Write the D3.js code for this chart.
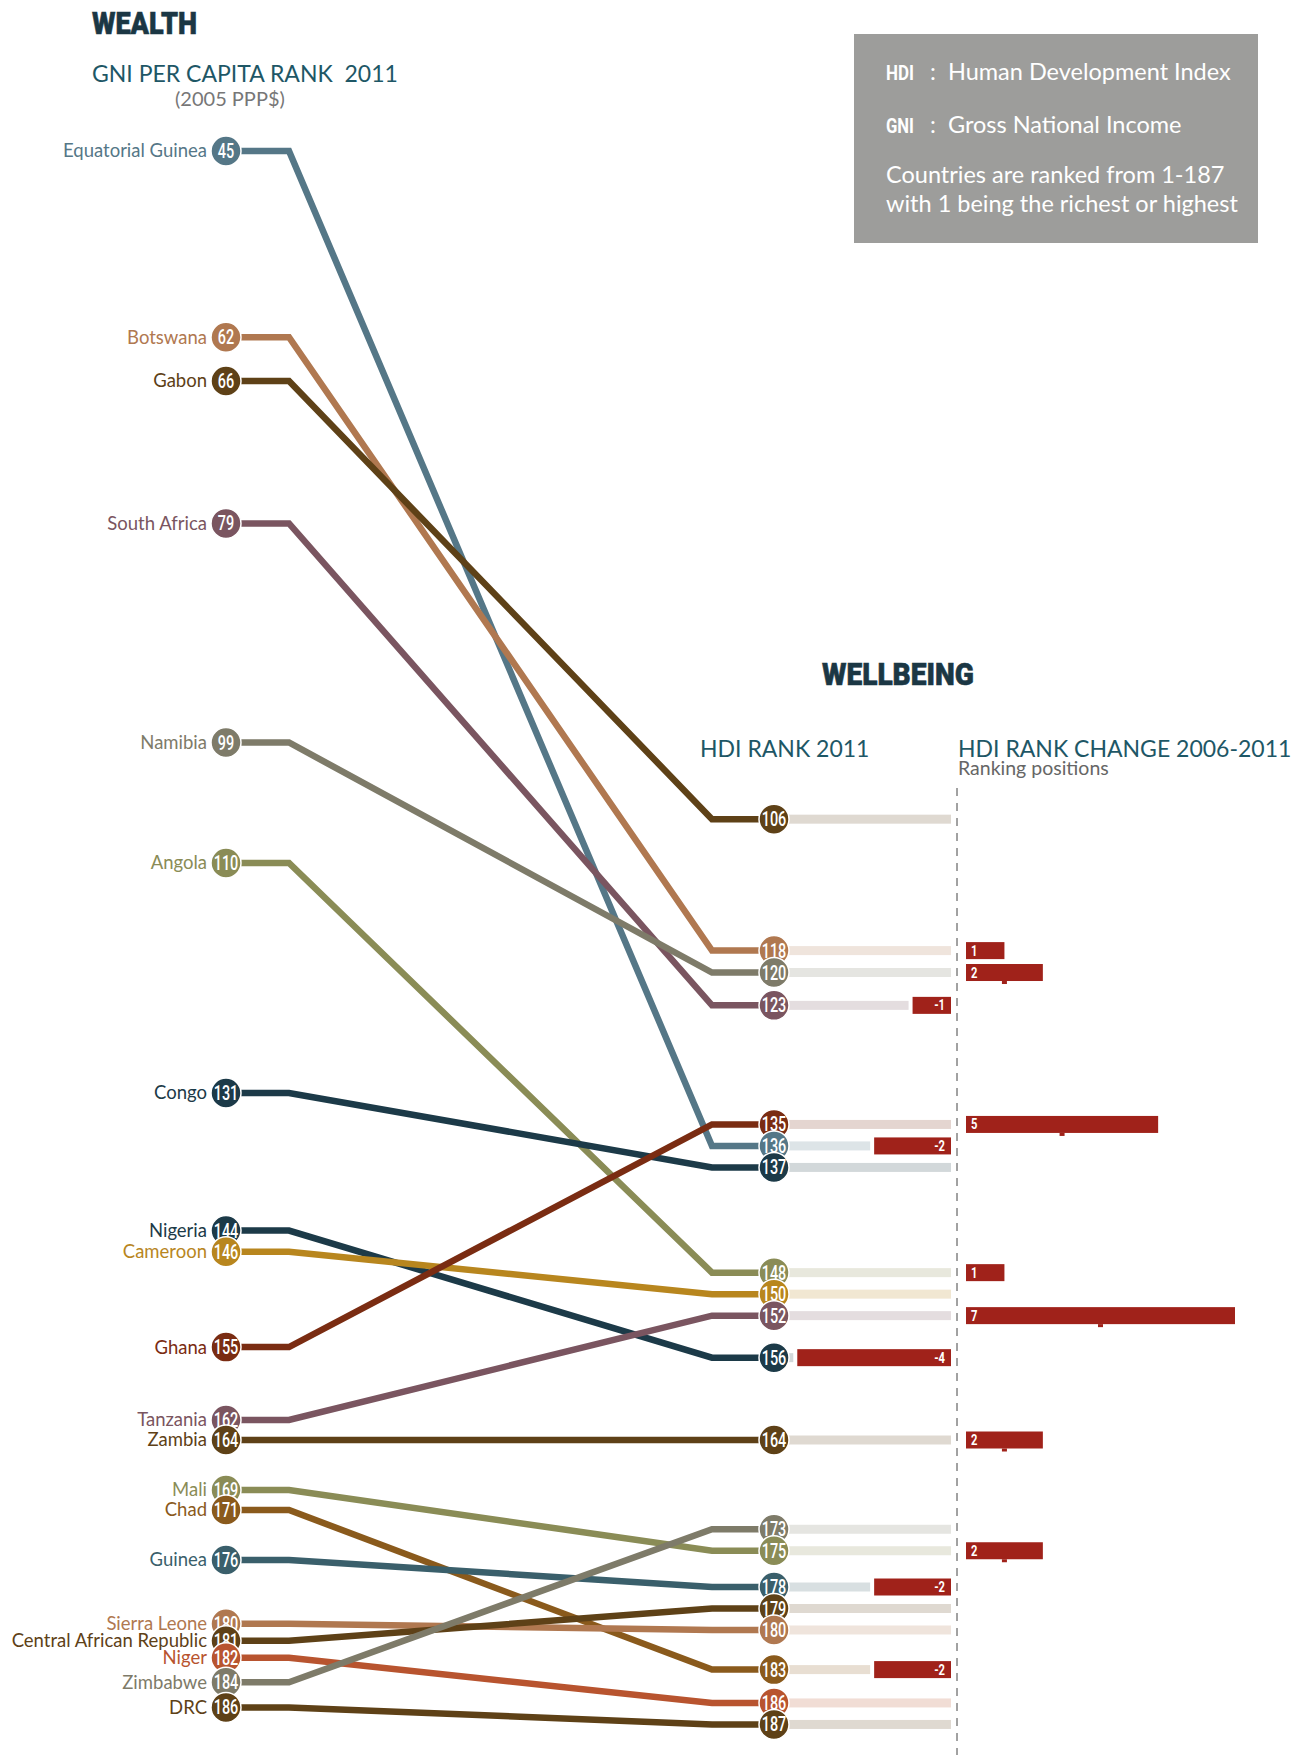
<!DOCTYPE html>
<html><head><meta charset="utf-8">
<script src="https://cdn.jsdelivr.net/npm/d3@7"></script>
<style>
body{margin:0;background:#fff;}
svg{display:block}
</style></head><body>
<svg id="chart" width="1306" height="1755"></svg>
<script>
// ---------- data ----------
const countries = ["Equatorial Guinea","Botswana","Gabon","South Africa","Namibia","Angola","Congo","Nigeria","Cameroon","Ghana","Tanzania","Zambia","Mali","Chad","Guinea","Sierra Leone","Central African Republic","Niger","Zimbabwe","DRC"];
const gniRank   = [45,62,66,79,99,110,131,144,146,155,162,164,169,171,176,180,181,182,184,186];
const hdiRank   = [136,118,106,123,120,148,137,156,150,135,152,164,175,183,178,180,179,186,173,187];
const hdiChange = [-2,1,0,-1,2,1,0,-4,0,5,7,2,2,-2,-2,0,0,0,0,0];

// ---------- style ----------
const palette = ["#557787","#b07850","#5e4117","#7a5560","#7e7b69","#8a8c56","#1c3a48","#1c3a48","#b8861e","#7a2c12","#7a5560","#5e4117","#8a8c56","#8a5a1c","#3a5f6b","#b07850","#5e4117","#b8542f","#7e7b69","#5e4117"];
const SANS = "Lato, 'Open Sans', sans-serif";
const COND = "Roboto, 'DejaVu Sans', sans-serif";
const TITLE = "#1b3744", HEAD = "#1e5766", BAR = "#a0221a";

const svg = d3.select("#chart");

// rank scale (polylinear) shared by both columns
const y = d3.scaleLinear().domain([45,131,160,176,182,187]).range([151,1093,1400,1560,1657,1720]);
const xCol = d3.scalePoint().domain(["gni","elbowL","elbowR","hdi"]).range([226,774]);
const xElbow = {l:289, r:712};
const trackEnd = 951, zeroLine = 957, posStart = 966;
const cx = d3.scaleLinear().domain([0,7]).range([0,269]);

function relax(vals, gap){
  const idx = d3.range(vals.length).sort((a,b)=>vals[a]-vals[b]);
  const p = vals.slice();
  for(let it=0; it<300; it++){
    let moved=false;
    for(let k=1;k<idx.length;k++){
      const a=idx[k-1], b=idx[k];
      const d=p[b]-p[a];
      if(d<gap-0.01){const s=(gap-d)/2; p[a]-=s; p[b]+=s; moved=true;}
    }
    if(!moved) break;
  }
  return p;
}
const yL = relax(gniRank.map(y), 17);
const yR = relax(hdiRank.map(y), 21.5);

const data = countries.map((c,i)=>({name:c, gni:gniRank[i], hdi:hdiRank[i], ch:hdiChange[i], color:palette[i], yl:yL[i], yr:yR[i]}));
const xl = xCol("gni"), xr = xCol("hdi");

// squeeze a text horizontally to a target width (anchored at its x)
function fit(sel, w){
  const node = sel.node();
  const len = node.getComputedTextLength();
  const x = +sel.attr("x");
  const k = w/len;
  sel.attr("transform",`translate(${x*(1-k)},0) scale(${k},1)`);
  return sel;
}

// ---------- titles ----------
fit(svg.append("text").attr("x",92).attr("y",34).text("WEALTH")
  .attr("font-family",COND).attr("font-weight",900).attr("font-size",31)
  .attr("fill",TITLE).attr("stroke",TITLE).attr("stroke-width",0.6), 105);
svg.append("text").attr("x",92).attr("y",82).text("GNI PER CAPITA RANK\u00a0\u00a02011")
  .attr("font-family",SANS).attr("font-size",23).attr("fill",HEAD);
svg.append("text").attr("x",175).attr("y",106).text("(2005 PPP$)")
  .attr("font-family",SANS).attr("font-size",20).attr("fill","#777");

fit(svg.append("text").attr("x",822).attr("y",685).text("WELLBEING")
  .attr("font-family",COND).attr("font-weight",900).attr("font-size",31)
  .attr("fill",TITLE).attr("stroke",TITLE).attr("stroke-width",0.6), 152);
svg.append("text").attr("x",700).attr("y",757).text("HDI RANK 2011")
  .attr("font-family",SANS).attr("font-size",23).attr("fill",HEAD);
svg.append("text").attr("x",958).attr("y",757).text("HDI RANK CHANGE 2006-2011")
  .attr("font-family",SANS).attr("font-size",23).attr("fill",HEAD);
svg.append("text").attr("x",958).attr("y",775).text("Ranking positions")
  .attr("font-family",SANS).attr("font-size",19.5).attr("fill","#666");

// ---------- legend box ----------
const lg = svg.append("g");
lg.append("rect").attr("x",854).attr("y",34).attr("width",404).attr("height",209).attr("fill","#9d9d9b");
const lgRows = [
  {b:"HDI", t:":  Human Development Index", y:80},
  {b:"GNI", t:":  Gross National Income", y:133}
];
lgRows.forEach(r=>{
  fit(lg.append("text").attr("x",886).attr("y",r.y).text(r.b).attr("font-family",COND).attr("font-weight",700).attr("font-size",21).attr("fill","#fff"), 28);
  lg.append("text").attr("x",930).attr("y",r.y).text(r.t).attr("font-family",SANS).attr("font-size",23.5).attr("fill","#fff").attr("xml:space","preserve");
});
lg.append("text").attr("x",886).attr("y",183).text("Countries are ranked from 1-187").attr("font-family",SANS).attr("font-size",23.5).attr("fill","#fff");
lg.append("text").attr("x",886).attr("y",212).text("with 1 being the richest or highest").attr("font-family",SANS).attr("font-size",23.5).attr("fill","#fff");

// ---------- dashed zero line ----------
svg.append("line").attr("x1",zeroLine).attr("x2",zeroLine).attr("y1",788).attr("y2",1755)
  .attr("stroke","#444").attr("stroke-width",1).attr("stroke-dasharray","8,7");

// ---------- tracks ----------
svg.append("g").selectAll("rect").data(data).join("rect")
  .attr("x",xr)
  .attr("y",d=>d.yr-4.5)
  .attr("height",9)
  .attr("width",d=> (d.ch<0 ? trackEnd - cx(-d.ch) - 4 : trackEnd) - xr)
  .attr("fill",d=>d3.interpolateRgb(d.color,"#fff")(0.8));

// ---------- slope lines ----------
const line = d3.line();
svg.append("g").selectAll("path").data(data).join("path")
  .attr("d",d=>line([[xl,d.yl],[xElbow.l,d.yl],[xElbow.r,d.yr],[xr,d.yr]]))
  .attr("fill","none").attr("stroke",d=>d.color).attr("stroke-width",6.5)
  .attr("stroke-linejoin","miter");

// ---------- change bars ----------
const bars = data.filter(d=>d.ch!==0);
const bg = svg.append("g");
bg.selectAll("rect.bar").data(bars).join("rect").attr("class","bar")
  .attr("x",d=>d.ch>0?posStart:trackEnd-cx(-d.ch))
  .attr("y",d=>d.yr-8.5).attr("height",17)
  .attr("width",d=>cx(Math.abs(d.ch))).attr("fill",BAR);
bg.selectAll("rect.nub").data(bars.filter(d=>d.ch>1)).join("rect").attr("class","nub")
  .attr("x",d=>posStart+cx(d.ch)/2-2.5).attr("y",d=>d.yr+8.5).attr("width",5).attr("height",3).attr("fill",BAR);
bg.selectAll("g").data(bars).join("g")
  .attr("transform",d=>`translate(${d.ch>0?posStart+5:trackEnd-6},${d.yr+5}) scale(0.8,1)`)
  .append("text")
  .attr("text-anchor",d=>d.ch>0?"start":"end")
  .attr("font-family",COND).attr("font-weight",700).attr("font-size",14).attr("fill","#fff")
  .text(d=>d.ch);

// ---------- circles ----------
function nodes(key, xpos, ykey){
  const g = svg.append("g");
  const sorted = data.slice().sort((a,b)=>a[ykey]-b[ykey]);
  const n = g.selectAll("g").data(sorted).join("g").attr("transform",d=>`translate(${xpos},${d[ykey]})`);
  n.append("circle").attr("r",15).attr("fill",d=>d.color).attr("stroke","#fff").attr("stroke-width",1.5);
  n.append("text").attr("text-anchor","middle").attr("dy","0.36em").attr("transform","scale(0.74,1)")
    .attr("font-family",COND).attr("font-weight",500).attr("font-size",19.5).attr("fill","#fff").text(d=>d[key]);
  return n;
}
nodes("gni", xl, "yl");
nodes("hdi", xr, "yr");

// ---------- country labels ----------
svg.append("g").selectAll("text").data(data).join("text")
  .attr("x",xl-19).attr("y",d=>d.yl).attr("dy","0.35em").attr("text-anchor","end")
  .attr("font-family",SANS).attr("font-size",18.5).attr("fill",d=>d.color)
  .text(d=>d.name);
</script>
</body></html>
